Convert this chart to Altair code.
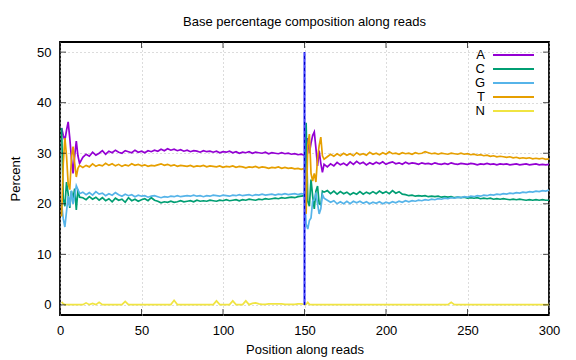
import altair as alt
import pandas as pd

# ---------------- data ----------------
bases = ["A", "C", "G", "T", "N"]
colors = ["#9400d3", "#009e73", "#56b4e9", "#e69f00", "#f0e442"]

pos_r1_head = list(range(1, 13))
pos_r1_tail = list(range(14, 151, 2))
pos_r2_head = list(range(151, 163))
pos_r2_tail = list(range(164, 301, 2))
positions = pos_r1_head + pos_r1_tail + pos_r2_head + pos_r2_tail

A_vals = [
    35.0, 33.5, 32.6, 34.5, 36.2, 33.0, 29.0, 26.0, 29.5, 32.4, 29.5, 28.0,
    29.2, 29.8, 29.4, 30.2, 29.6, 30.0, 30.5, 29.8, 30.4, 30.1, 30.6, 30.2, 30.0, 30.5,
    30.3, 30.1, 30.6, 30.2, 30.4, 30.1, 30.5, 30.3, 30.6, 30.4, 30.8, 30.5, 30.9, 30.6,
    30.8, 30.5, 30.7, 30.4, 30.6, 30.3, 30.5, 30.4, 30.2, 30.5, 30.3, 30.4, 30.2, 30.4,
    30.1, 30.3, 30.2, 30.4, 30.1, 30.3, 30.0, 30.2, 30.1, 30.3, 30.0, 30.2, 30.1, 30.0,
    30.2, 29.9, 30.1, 30.0, 29.9, 30.1, 29.9, 30.0, 29.8, 29.9, 29.7, 29.8, 29.6,
    30.0, 33.0, 30.0, 32.0, 33.5, 34.2, 31.0, 27.5, 30.5, 28.0, 26.2, 27.8,
    27.3, 27.9, 27.5, 28.2, 27.7, 28.0, 27.6, 28.3, 27.8, 28.4, 27.9, 28.2, 27.7, 28.1,
    27.8, 28.2, 27.9, 28.3, 27.8, 28.1, 28.3, 27.9, 28.1, 27.8, 28.2, 27.9, 28.1, 28.0,
    27.8, 28.1, 27.9, 28.0, 27.8, 28.1, 27.9, 27.8, 28.0, 27.8, 28.1, 27.9, 27.8, 28.0,
    27.9, 27.8, 28.0, 27.9, 27.7, 27.9, 27.8, 28.0, 27.8, 27.9, 27.7, 27.9, 27.8, 27.9,
    27.7, 27.8, 27.9, 27.7, 27.8, 27.9, 27.7, 27.8, 27.9, 27.7, 27.8, 27.7, 27.8,
]

C_vals = [
    35.0, 21.0, 19.5, 24.3, 22.0, 19.2, 22.5, 21.0, 23.0, 18.8, 22.8, 21.3,
    21.2, 20.8, 21.4, 20.9, 21.3, 20.7, 21.2, 20.6, 21.0, 20.4, 21.1, 20.7, 20.9, 20.3,
    21.2, 20.6, 20.9, 20.5, 20.8, 21.0, 20.6, 21.2, 20.7, 20.5, 20.2, 20.4, 20.3, 20.5,
    20.3, 20.4, 20.6, 20.4, 20.5, 20.6, 20.4, 20.7, 20.5, 20.6, 20.5, 20.7, 20.6, 20.5,
    20.7, 20.6, 20.8, 20.6, 20.7, 20.8, 20.6, 20.8, 20.7, 20.9, 20.8, 20.7, 20.9, 20.8,
    21.0, 20.9, 21.0, 21.1, 21.0, 21.2, 21.1, 21.2, 21.3, 21.2, 21.4, 21.5, 21.6,
    36.0, 20.5, 19.5, 24.8, 21.5, 19.0, 22.5, 23.5, 20.0, 19.8, 22.5, 22.3,
    22.6, 22.0, 22.5, 21.9, 22.4, 22.0, 22.3, 21.8, 22.2, 21.9, 22.4, 21.9, 22.3, 22.0,
    22.4, 22.0, 22.5, 22.1, 22.4, 22.0, 22.6, 22.1, 22.4, 21.9, 21.8, 21.6, 21.7, 21.5,
    21.6, 21.5, 21.6, 21.4, 21.5, 21.4, 21.5, 21.3, 21.4, 21.3, 21.4, 21.2, 21.3, 21.2,
    21.3, 21.1, 21.2, 21.1, 21.2, 21.0, 21.1, 21.0, 21.1, 20.9, 21.0, 20.9, 21.0, 20.9,
    20.8, 20.9, 20.8, 20.9, 20.8, 20.7, 20.8, 20.7, 20.8, 20.7, 20.8, 20.7, 20.7,
]

G_vals = [
    20.0, 17.0, 15.4, 18.5, 21.5, 19.5, 22.6, 20.0, 21.5, 23.6, 22.8, 22.0,
    22.3, 21.8, 22.2, 21.7, 22.4, 21.9, 22.1, 21.6, 22.0, 21.7, 22.2, 21.8, 21.5, 21.9,
    21.6, 21.8, 21.4, 21.7, 21.5, 21.6, 21.3, 21.5, 21.6, 21.4, 21.2, 21.4, 21.3, 21.5,
    21.4, 21.6, 21.4, 21.5, 21.6, 21.5, 21.7, 21.5, 21.6, 21.4, 21.6, 21.5, 21.7, 21.6,
    21.5, 21.7, 21.6, 21.5, 21.7, 21.6, 21.8, 21.6, 21.7, 21.8, 21.6, 21.8, 21.7, 21.9,
    21.7, 21.8, 21.9, 21.7, 21.9, 21.8, 22.0, 21.8, 21.9, 22.0, 21.8, 22.0, 21.9,
    16.0, 15.0, 16.7, 17.2, 20.5, 20.8, 22.2, 20.0, 18.0, 19.0, 21.8, 21.1,
    20.7, 20.3, 20.6, 20.0, 20.4, 20.0, 20.5, 20.0, 20.5, 20.2, 20.5, 20.1, 20.4, 20.0,
    20.3, 20.1, 20.4, 20.0, 20.3, 20.1, 20.4, 20.2, 20.5, 20.3, 20.6, 20.4, 20.6, 20.5,
    20.7, 20.6, 20.8, 20.7, 20.9, 20.8, 21.0, 20.9, 21.1, 21.0, 21.2, 21.1, 21.3, 21.2,
    21.4, 21.3, 21.5, 21.4, 21.6, 21.5, 21.7, 21.6, 21.8, 21.7, 21.9, 21.8, 22.0, 21.9,
    22.1, 22.0, 22.2, 22.1, 22.3, 22.2, 22.4, 22.3, 22.5, 22.4, 22.6, 22.5, 22.7,
]

T_vals = [
    17.5, 28.0, 33.0, 29.5, 24.0, 22.8, 29.0, 31.3, 28.0, 25.3, 27.0, 27.6,
    27.2, 27.6, 27.3, 27.9, 27.4, 27.7, 27.5, 28.0, 27.6, 27.9, 27.5, 27.8, 27.4, 27.7,
    27.5, 27.9, 27.6, 27.8, 27.5, 27.7, 27.4, 27.6, 27.5, 27.7, 27.9, 27.6, 27.8, 27.5,
    27.7, 27.4, 27.6, 27.5, 27.4, 27.6, 27.3, 27.5, 27.4, 27.6, 27.3, 27.5, 27.4, 27.3,
    27.5, 27.2, 27.4, 27.3, 27.5, 27.2, 27.4, 27.3, 27.1, 27.3, 27.2, 27.4, 27.1, 27.3,
    27.2, 27.0, 27.2, 27.1, 27.3, 27.0, 27.2, 27.0, 27.1, 26.9, 27.0, 26.8, 27.0,
    18.0, 31.5, 33.8, 26.0, 24.5, 26.0, 24.3, 29.0, 31.5, 33.2, 29.5, 28.8,
    29.3, 29.8, 29.4, 29.9, 29.5, 30.0, 29.6, 29.9, 29.5, 30.1, 29.7, 29.9, 29.6, 30.2,
    29.8, 30.0, 29.7, 30.1, 29.8, 30.3, 29.9, 30.0, 29.8, 30.1, 29.9, 30.0, 29.8, 30.1,
    29.9, 30.0, 30.3, 30.1, 29.9, 30.0, 29.8, 30.0, 29.9, 29.8, 30.0, 29.9, 29.8, 30.0,
    29.8, 29.9, 29.7, 29.8, 29.6, 29.7, 29.5, 29.6, 29.4, 29.5, 29.3, 29.4, 29.3, 29.2,
    29.3, 29.1, 29.2, 29.0, 29.1, 29.0, 29.1, 28.9, 29.0, 28.9, 29.0, 28.8, 28.9,
]

N_vals = [
    0.6, 0.2, 0.05, 0.05, 0.05, 0.05, 0.05, 0.05, 0.05, 0.05, 0.05, 0.05,
    0.05, 0.4, 0.05, 0.3, 0.05, 0.5, 0.05, 0.05, 0.05, 0.05, 0.05, 0.05, 0.05, 0.7,
    0.05, 0.05, 0.05, 0.05, 0.05, 0.05, 0.05, 0.05, 0.05, 0.05, 0.05, 0.05, 0.05, 0.05,
    0.9, 0.05, 0.05, 0.05, 0.05, 0.05, 0.05, 0.05, 0.05, 0.05, 0.05, 0.05, 0.05, 0.8,
    0.05, 0.05, 0.05, 0.05, 0.8, 0.05, 0.05, 0.05, 0.8, 0.05, 0.3, 0.4, 0.2, 0.1,
    0.1, 0.2, 0.2, 0.2, 0.2, 0.2, 0.1, 0.1, 0.1, 0.1, 0.2, 0.2, 0.1,
    0.1, 0.5, 0.1, 0.05, 0.05, 0.05, 0.05, 0.05, 0.05, 0.05, 0.05, 0.05,
    0.05, 0.05, 0.05, 0.05, 0.05, 0.05, 0.05, 0.05, 0.05, 0.05, 0.05, 0.05, 0.05, 0.05,
    0.05, 0.05, 0.05, 0.05, 0.05, 0.05, 0.05, 0.05, 0.05, 0.05, 0.05, 0.05, 0.05, 0.05,
    0.05, 0.05, 0.05, 0.05, 0.05, 0.05, 0.05, 0.05, 0.05, 0.05, 0.5, 0.05, 0.05, 0.05,
    0.05, 0.05, 0.05, 0.05, 0.05, 0.05, 0.05, 0.05, 0.05, 0.05, 0.05, 0.05, 0.05, 0.05,
    0.05, 0.05, 0.05, 0.05, 0.05, 0.05, 0.05, 0.05, 0.05, 0.05, 0.05, 0.05, 0.05,
]

x_ticks = [0, 50, 100, 150, 200, 250, 300]
y_ticks = [0, 10, 20, 30, 40, 50]
x_domain = [0, 300]
y_domain = [-2, 52]
read_boundary = [150]
boundary_span = [0, 50]

series = {"A": A_vals, "C": C_vals, "G": G_vals, "T": T_vals, "N": N_vals}
rows = []
for b in bases:
    vals = series[b]
    assert len(vals) == len(positions), (b, len(vals), len(positions))
    for p, v in zip(positions, vals):
        rows.append({"pos": p, "pct": v, "base": b})
df = pd.DataFrame(rows)

FONT = "Liberation Sans"

xscale = alt.Scale(domain=x_domain, nice=False, zero=False)
yscale = alt.Scale(domain=y_domain, nice=False, zero=False)

lines = alt.Chart(df).mark_line(strokeWidth=1.7, clip=True).encode(
    x=alt.X("pos:Q", scale=xscale,
            axis=alt.Axis(values=x_ticks, title="Position along reads", ticks=False,
                          domain=False, labelPadding=9, titlePadding=6,
                          grid=True, gridDash=[1, 3], gridColor="#b8b8b8")),
    y=alt.Y("pct:Q", scale=yscale,
            axis=alt.Axis(values=y_ticks, title="Percent", ticks=False,
                          domain=False, labelPadding=9, titlePadding=14,
                          grid=True, gridDash=[1, 3], gridColor="#b8b8b8")),
    color=alt.Color("base:N", scale=alt.Scale(domain=bases, range=colors),
                    sort=bases,
                    legend=alt.Legend(title=None, orient="none", legendX=447, legendY=6.5,
                                      symbolType="M-4,0H4", symbolSize=105,
                                      symbolStrokeWidth=2,
                                      labelAlign="right", labelOffset={"expr": "-35"},
                                      labelFontSize=13, labelFont=FONT,
                                      rowPadding=0, padding=0)),
    order=alt.Order("pos:Q"),
)

bdf = pd.DataFrame({"pos": read_boundary, "lo": [boundary_span[0]], "hi": [boundary_span[1]]})
boundary_base = alt.Chart(bdf).mark_rule(color="#4848ff", strokeWidth=2.2).encode(
    x=alt.X("pos:Q", scale=xscale),
    y=alt.Y("lo:Q", scale=yscale),
    y2="hi:Q",
)
boundary_dash = alt.Chart(bdf).mark_rule(color="#0000c8", strokeWidth=1, strokeDash=[3, 3]).encode(
    x=alt.X("pos:Q", scale=xscale),
    y=alt.Y("lo:Q", scale=yscale),
    y2="hi:Q",
)

xt = pd.DataFrame([{"pos": v, "edge": e} for v in x_ticks for e in y_domain])
yt = pd.DataFrame([{"pct": v, "edge": e} for v in y_ticks for e in x_domain])

xtick_layer = alt.Chart(xt).mark_tick(orient="vertical", size=12, thickness=1,
                                      color="black", clip=True).encode(
    x=alt.X("pos:Q", scale=xscale), y=alt.Y("edge:Q", scale=yscale))
ytick_layer = alt.Chart(yt).mark_tick(orient="horizontal", size=12, thickness=1,
                                      color="black", clip=True).encode(
    y=alt.Y("pct:Q", scale=yscale), x=alt.X("edge:Q", scale=xscale))

chart = alt.layer(lines, boundary_base, boundary_dash, xtick_layer, ytick_layer).properties(
    width=489, height=273,
    title=alt.TitleParams("Base percentage composition along reads", fontSize=13,
                          fontWeight="normal", font=FONT, offset=13, anchor="middle",
                          color="black"),
    autosize=alt.AutoSizeParams(type="none"),
    padding={"left": 52, "top": 34, "right": 19, "bottom": 42},
).configure_view(stroke="black", strokeWidth=1.8).configure_axis(
    labelFont=FONT, titleFont=FONT, labelFontSize=13, titleFontSize=13,
    titleFontWeight="normal", labelColor="black", titleColor="black",
).configure_axisX(labelFlush=False)

chart.save("out.html", embed_options={"renderer": "svg", "actions": False})
